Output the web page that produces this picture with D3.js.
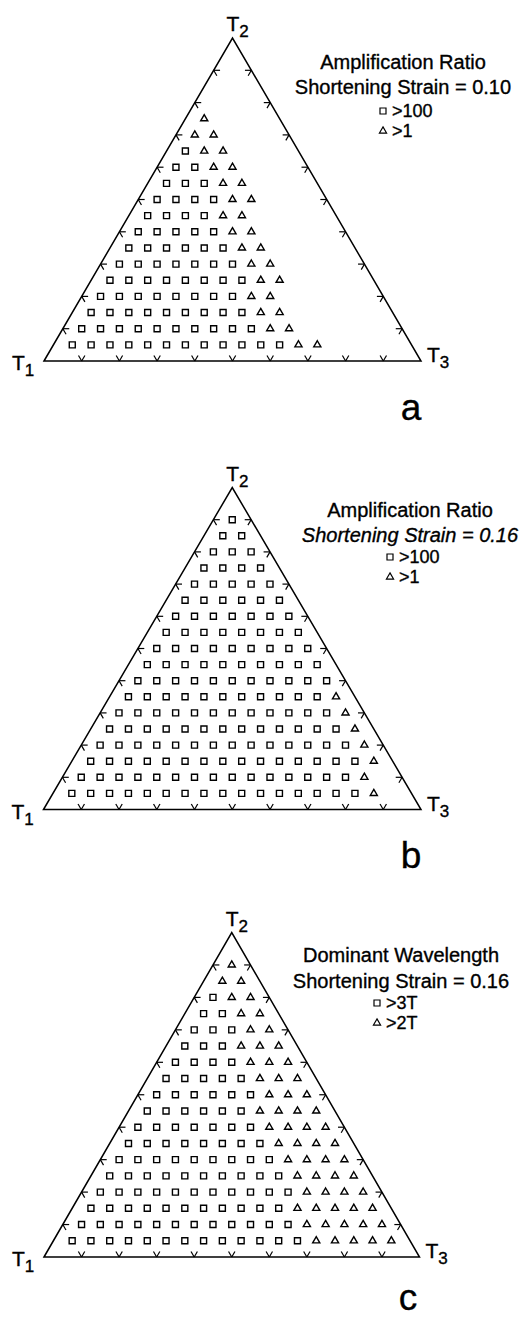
<!DOCTYPE html>
<html>
<head>
<meta charset="utf-8">
<script src="https://cdn.jsdelivr.net/npm/d3@7"></script>
<style>
  body { margin: 0; background: #fff; }
  svg { display: block; }
  text { font-family: "Liberation Sans", Arial, Helvetica, sans-serif; fill: #000;
         stroke: #000; stroke-width: 0.35px; }
</style>
</head>
<body>
<svg id="fig" width="525" height="1319"></svg>
<script>
// Compositions are sampled on a 5% ternary grid; each row is a fixed T2 fraction,
// and points along a row run from small T3 (left) to large T3 (right).
const gridStep = 0.05;
const tickValues = [0.1, 0.2, 0.3, 0.4, 0.5, 0.6, 0.7, 0.8, 0.9];

// (a) Amplification ratio, shortening strain 0.10
const rowT2A      = [0.75, 0.70, 0.65, 0.60, 0.55, 0.50, 0.45, 0.40, 0.35, 0.30, 0.25, 0.20, 0.15, 0.10, 0.05];
const squaresA    = [0, 0, 1, 2, 3, 4, 4, 5, 6, 7, 8, 8, 9, 10, 12];
const trianglesA  = [1, 2, 2, 2, 2, 2, 2, 2, 2, 2, 2, 2, 2, 2, 2];

// (b) Amplification ratio, shortening strain 0.16
const rowT2B      = [0.90, 0.85, 0.80, 0.75, 0.70, 0.65, 0.60, 0.55, 0.50, 0.45, 0.40, 0.35, 0.30, 0.25, 0.20, 0.15, 0.10, 0.05];
const squaresB    = [1, 2, 3, 4, 5, 6, 7, 8, 9, 10, 11, 11, 12, 13, 14, 15, 15, 16];
const trianglesB  = [0, 0, 0, 0, 0, 0, 0, 0, 0, 0, 0, 1, 1, 1, 1, 1, 1, 1];

// (c) Dominant wavelength, shortening strain 0.16
const rowT2C      = [0.90, 0.85, 0.80, 0.75, 0.70, 0.65, 0.60, 0.55, 0.50, 0.45, 0.40, 0.35, 0.30, 0.25, 0.20, 0.15, 0.10, 0.05];
const squaresC    = [0, 0, 1, 2, 3, 3, 4, 5, 6, 6, 7, 8, 9, 10, 11, 11, 12, 13];
const trianglesC  = [1, 2, 2, 2, 2, 3, 3, 3, 3, 4, 4, 4, 4, 4, 4, 5, 5, 5];

// Legend wording
const titlesA = ["Amplification Ratio", "Shortening Strain = 0.10"];
const titlesB = ["Amplification Ratio", "Shortening Strain = 0.16"];
const titlesC = ["Dominant Wavelength", "Shortening Strain = 0.16"];
const keysAmp = [">100", ">1"];
const keysWave = [">3T", ">2T"];
const vertexNames = ["1", "2", "3"];

const panels = [
  { tag: "a", rowsT2: rowT2A, squares: squaresA, triangles: trianglesA, titles: titlesA, keys: keysAmp,
    italicStrain: false,
    frame: { left: 44, right: 421, top: 38, base: 361 },
    legend: { cx: 403, y: [69, 94], mx: 383, my: [111, 131] },
    label: { x: 411, y: 420 } },
  { tag: "b", rowsT2: rowT2B, squares: squaresB, triangles: trianglesB, titles: titlesB, keys: keysAmp,
    italicStrain: true,
    frame: { left: 43.5, right: 421, top: 487.5, base: 809.5 },
    legend: { cx: 410, y: [517, 542], mx: 390, my: [557, 577] },
    label: { x: 411, y: 868 } },
  { tag: "c", rowsT2: rowT2C, squares: squaresC, triangles: trianglesC, titles: titlesC, keys: keysWave,
    italicStrain: false,
    frame: { left: 44, right: 419.5, top: 932.5, base: 1257 },
    legend: { cx: 401, y: [962, 988], mx: 377, my: [1003, 1023] },
    label: { x: 408, y: 1310 } }
];

const svg = d3.select("#fig");
const squareSym = d3.symbol().type(d3.symbolSquare).size(36);
const triangleSym = d3.symbol().type(d3.symbolTriangle).size(22);

panels.forEach(p => {
  const g = svg.append("g");
  const xs = d3.scaleLinear().domain([0, 1]).range([p.frame.left, p.frame.right]);
  const ys = d3.scaleLinear().domain([0, 1]).range([p.frame.base, p.frame.top]);
  // ternary (T2, T3) -> screen
  const pos = (t2, t3) => [xs(t3 + t2 / 2), ys(t2)];

  // outline
  const corners = [pos(0, 0), pos(1, 0), pos(0, 1)];
  g.append("path")
    .attr("d", d3.line()(corners) + "Z")
    .attr("fill", "none").attr("stroke", "#000").attr("stroke-width", 1.5)
    .attr("stroke-linejoin", "miter");

  // edge ticks: two short stubs along the grid directions at each 10% mark
  const d = 0.017;
  const stubs = [];
  tickValues.forEach(t => {
    const L = pos(t, 0);               // left edge (T3 = 0)
    stubs.push([L, pos(t, d)], [L, pos(t - d, d)]);
    const B = pos(0, t);               // base (T2 = 0)
    stubs.push([B, pos(d, t)], [B, pos(d, t - d)]);
    const R = pos(t, 1 - t);           // right edge (T1 = 0)
    stubs.push([R, pos(t, 1 - t - d)], [R, pos(t - d, 1 - t)]);
  });
  g.append("g").selectAll("path").data(stubs).join("path")
    .attr("d", s => d3.line()(s))
    .attr("stroke", "#000").attr("stroke-width", 1.2).attr("fill", "none");

  // data points
  const pts = [];
  p.rowsT2.forEach((t2, i) => {
    const n = p.squares[i] + p.triangles[i];
    for (let j = 1; j <= n; j++) {
      pts.push({ t2, t3: j * gridStep, kind: j <= p.squares[i] ? "sq" : "tri" });
    }
  });
  g.append("g").selectAll("path").data(pts).join("path")
    .attr("transform", q => { const [x, y] = pos(q.t2, q.t3); return `translate(${x},${y})`; })
    .attr("d", q => q.kind === "sq" ? squareSym() : triangleSym())
    .attr("fill", "none").attr("stroke", "#000").attr("stroke-width", 1.4);

  // vertex labels
  const vLab = (x, y, sub) => {
    const t = g.append("text").attr("x", x).attr("y", y).style("font-size", "21px");
    t.append("tspan").text("T");
    t.append("tspan").attr("dy", 6).style("font-size", "17px").text(sub);
  };
  const [c1, c2, c3] = corners;
  vLab(c1[0] - 32, c1[1] + 9, vertexNames[0]);
  vLab(c2[0] - 6, c2[1] - 7, vertexNames[1]);
  vLab(c3[0] + 6, c3[1] + 1, vertexNames[2]);

  // legend
  g.append("text").attr("x", p.legend.cx).attr("y", p.legend.y[0]).attr("text-anchor", "middle")
    .style("font-size", "20px").text(p.titles[0]);
  g.append("text").attr("x", p.legend.cx).attr("y", p.legend.y[1]).attr("text-anchor", "middle")
    .style("font-size", "20px").style("font-style", p.italicStrain ? "italic" : "normal").text(p.titles[1]);
  [squareSym, triangleSym].forEach((sym, i) => {
    g.append("path").attr("transform", `translate(${p.legend.mx},${p.legend.my[i]})`)
      .attr("d", sym()).attr("fill", "none").attr("stroke", "#000").attr("stroke-width", 1.2);
    g.append("text").attr("x", p.legend.mx + 9).attr("y", p.legend.my[i] + 6)
      .style("font-size", "18px").text(p.keys[i]);
  });

  // panel letter
  g.append("text").attr("x", p.label.x).attr("y", p.label.y).attr("text-anchor", "middle")
    .style("font-size", "37px").text(p.tag);
});
</script>
</body>
</html>
